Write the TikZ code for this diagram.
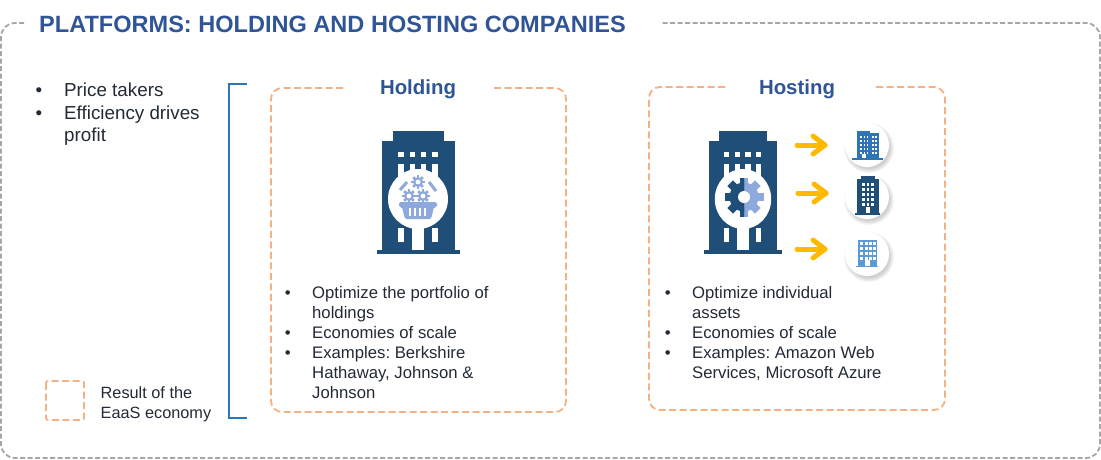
\documentclass[tikz,border=0pt]{standalone}
\usepackage{fontspec}
\setmainfont{Liberation Sans}
\definecolor{titleblue}{HTML}{2F5597}
\definecolor{darkblue}{HTML}{1F4E79}
\definecolor{midblue}{HTML}{2E75B6}
\definecolor{paleblue}{HTML}{5B9BD5}
\definecolor{lightblue}{HTML}{8EA9DB}
\definecolor{frameorange}{HTML}{F4B183}
\definecolor{framegray}{HTML}{A6A6A6}
\definecolor{arrowyellow}{HTML}{FFB900}
\definecolor{bodytext}{HTML}{222A35}
\newcommand{\bitem}{\llap{\textbullet\hspace{21.5pt}}}
\newcommand{\bigitem}{\llap{\textbullet\hspace{22pt}}}
\begin{document}
\frenchspacing
\begin{tikzpicture}[
        x=1pt, y=-1pt,
        outerframe/.style={draw=framegray, line width=1.8pt, dash pattern=on 5pt off 2.5pt, rounded corners=14pt},
        orangeframe/.style={draw=frameorange, line width=1.8pt, dash pattern=on 7pt off 3.5pt, rounded corners=11pt},
        bracketline/.style={draw=midblue, line width=2pt},
        yellowarrow/.style={draw=arrowyellow, line width=5pt, line cap=round, line join=round},
        boxhead/.style={font=\fontsize{20.4}{24}\selectfont\bfseries, text=titleblue, inner sep=0pt},
        itemlist/.style={font=\fontsize{16.7}{20}\selectfont, text=bodytext, align=left, inner sep=0pt, anchor=north west},
        tower/.pic={
            \fill[darkblue] (-25.5,0) rectangle (25.5,10);
            \fill[darkblue] (-36.5,10) rectangle (36.5,119);
            \fill[darkblue] (-41.5,119) rectangle (41.5,123);
            \foreach \wx in {-20,-8.5,2.5,14} {
                \fill[white] (\wx,21) rectangle ++(5.5,5);
                \fill[white] (\wx,33) rectangle ++(5.5,14);
            }
            \fill[white] (-20,97) rectangle ++(5.5,14);
            \fill[white] (14,97) rectangle ++(5.5,14);
            \fill[white] (-6,97) rectangle (6,119);
            \fill[white] (0,68) circle (30);
        },
        gear/.pic={
            \foreach \ga in {0,45,...,315} {
                \fill[pic actions, rotate=\ga] (-4,-10) rectangle (4,-19.5);
            }
            \fill[pic actions] (0,0) circle (14.5);
        },
        smallgear/.pic={
            \foreach \ga in {0,45,...,315} {
                \fill[lightblue, rotate=\ga] (-1.4,-3) rectangle (1.4,-6.8);
            }
            \fill[lightblue] (0,0) circle (5);
            \fill[white] (0,0) circle (2.4);
        },
        badge/.pic={
            \foreach \sr in {25,24,23,22,21} {
                \fill[black, opacity=0.04] (2,3) circle (\sr);
            }
            \fill[white] (0,0) circle (22);
        }
    ]
    \useasboundingbox (0,0) rectangle (1101,459);

    % Rahmen
    \coordinate (framestart) at (24,23);
    \coordinate (frameend) at (660,23);
    \draw[outerframe] (framestart) -- (1,23) -- (1,458) -- (1100,458) -- (1100,23) -- (frameend);
    \node[anchor=base west, inner sep=0pt, font=\fontsize{23.55}{26}\selectfont\bfseries, text=titleblue] (title) at (39,32.5) {PLATFORMS: HOLDING AND HOSTING COMPANIES};

    % Links
    \node[itemlist, font=\fontsize{18.8}{22.5}\selectfont] (leftlist) at (64,83) {\bigitem Price takers\\\bigitem Efficiency drives\\profit};
    \draw[bracketline] (247,84) -- (229,84) -- (229,417.5) -- (247,417.5);
    \draw[orangeframe, rounded corners=2pt] (46,381) rectangle (84,420);
    \node[itemlist, font=\fontsize{16.3}{20.5}\selectfont] (legend) at (100.5,386) {Result of the\\EaaS economy};

    % Holding
    \node[boxhead] (holdinghead) at (418,89.5) {Holding};
    \draw[orangeframe] (343,88) -- (271,88) -- (271,412) -- (566,412) -- (566,88) -- (493,88);
    \pic at (418,131) {tower};
    \pic at (418,182) {smallgear};
    \pic at (409,196) {smallgear};
    \pic at (423,196) {smallgear};
    \draw[lightblue, line width=3pt] (400,190) -- (407,182);
    \draw[lightblue, line width=3pt] (429,182) -- (436,191);
    \fill[lightblue, rounded corners=1.5pt] (399,202) -- (437,202) -- (437,207) -- (434,207) -- (431,219) -- (405,219) -- (402,207) -- (399,207) -- cycle;
    \foreach \sx in {408.5,413.5,418.5,423.5} {
        \fill[white] (\sx,208) rectangle ++(2.6,7.5);
    }
    \node[itemlist] (holdinglist) at (312,286.5) {\bitem Optimize the portfolio of\\holdings\\\bitem Economies of scale\\\bitem Examples: Berkshire\\Hathaway, Johnson \&\\Johnson};

    % Hosting
    \node[boxhead] (hostinghead) at (797,89.5) {Hosting};
    \draw[orangeframe] (725,87) -- (649,87) -- (649,410) -- (945,410) -- (945,87) -- (873,87);
    \pic[xscale=0.94] at (743,131) {tower};
    \begin{scope}
        \clip (720,170) rectangle (744.5,225);
        \pic[fill=darkblue] at (744,197) {gear};
    \end{scope}
    \begin{scope}
        \clip (744.5,170) rectangle (770,225);
        \pic[fill=lightblue] at (744,197) {gear};
    \end{scope}
    \fill[white] (744,197) circle (6);
    \node[itemlist] (hostinglist) at (692,286.5) {\bitem Optimize individual\\assets\\\bitem Economies of scale\\\bitem Examples: Amazon Web\\Services, Microsoft Azure};

    % Pfeile
    \foreach \ay/\ax in {145/797, 193/798, 249/797} {
        \coordinate (arrowstart) at (\ax,\ay);
        \coordinate (arrowend) at (\ax+28,\ay);
        \draw[yellowarrow] (arrowstart) -- (arrowend);
        \draw[yellowarrow] (\ax+16,\ay-9) -- (arrowend) -- (\ax+16,\ay+9);
    }

    % Kleine Gebaeude
    \pic at (867,145) {badge};
    \pic at (867,197) {badge};
    \pic at (867,254) {badge};

    \fill[midblue] (857,131) rectangle (870,158);
    \fill[midblue] (870,132.5) rectangle (879,158);
    \fill[midblue] (852,158) rectangle (883,160);
    \foreach \wy in {136,140,...,152} {
        \foreach \wx in {860,863.5,866.5,872,875} {
            \fill[white] (\wx,\wy) rectangle ++(1.7,2.2);
        }
    }
    \fill[white] (862,154) rectangle ++(4,4);

    \fill[darkblue] (861,176) rectangle (875,179);
    \fill[darkblue] (857,179) rectangle (879,213);
    \fill[darkblue] (855,213) rectangle (880,214.5);
    \foreach \wy in {183,188,...,203} {
        \foreach \wx in {862,866.5,871} {
            \fill[white] (\wx,\wy) rectangle ++(2.6,3);
        }
    }
    \fill[white] (866,207) rectangle ++(4,6);

    \fill[paleblue] (858,240) rectangle (877,266);
    \fill[paleblue] (856,266) rectangle (878,267);
    \foreach \wy in {242,247,252,257} {
        \foreach \wx in {860,864.5,869,873} {
            \fill[white] (\wx,\wy) rectangle ++(3,3.2);
        }
    }
    \fill[white] (865,260) rectangle ++(4.5,6);
\end{tikzpicture}
\end{document}
